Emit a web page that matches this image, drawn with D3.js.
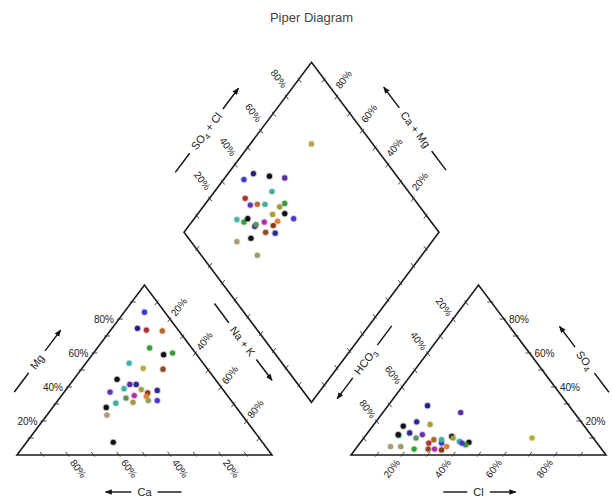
<!DOCTYPE html>
<html>
<head>
<meta charset="utf-8">
<script src="https://cdn.jsdelivr.net/npm/d3@7/dist/d3.min.js"></script>
<style>
  body { margin: 0; background: #fff; }
  text { font-family: "Liberation Sans", Arial, sans-serif; fill: #222; }
</style>
</head>
<body>
<script>

    // window size
    var width = 612, height = 499;

    // one colour per water sample
    var sampleColors = [
        "#b4ac3c", "#3a3ad0", "#23237e", "#111111", "#5a2aa0", "#3fae9e", "#b03030",
        "#6633b0", "#b06a30", "#45ab9b", "#3a9a3a", "#111111", "#a09a3a", "#46b0a8",
        "#36a336", "#2a2a88", "#111111", "#5f8f5f", "#b030b0", "#8b3a1a", "#a8a040",
        "#e08030", "#4a3acc", "#8b4a2a", "#2a2a90", "#a89a78", "#111111", "#9a9a6a"
    ];

    // cations (% meq)
    var ca  = [25, 8, 15.5, 38.5, 35, 38.5, 12.5, 45, 6.5, 46, 9, 58.5, 39, 29,
               16.5, 32.5, 51, 40.5, 36.5, 30.5, 32, 32, 29, 17.5, 26, 53, 13, 32.5];
    var mg  = [51, 84, 74.5, 44.5, 41.5, 39, 73.5, 37, 73, 30.5, 60, 7.5, 31, 54,
               63, 41.5, 28, 33.5, 35, 36.5, 38.5, 34.5, 32, 50.5, 38, 23.5, 59, 32];
    var nak = [24, 8, 10, 17, 23.5, 22.5, 14, 18, 20.5, 23.5, 31, 34, 30, 17,
               20.5, 26, 21, 26, 28.5, 33, 29.5, 33.5, 39, 32, 36, 23.5, 28, 35.5];

    // anions (% meq)
    var hco3 = [24, 61, 55.5, 50, 44.5, 53.5, 66, 66, 63, 60, 52, 55, 55, 75.5,
                73.5, 70.5, 71, 69.5, 65.5, 63, 60, 60, 53, 68, 64.5, 82, 75.5, 78];
    var so4  = [10, 7, 29, 7.5, 25, 8, 7, 12, 9, 9, 6, 11, 10, 11.5,
                3.5, 13, 17, 10, 3.5, 3, 18, 5, 7, 3.5, 19.5, 5, 12, 5];
    var cl   = [66, 32, 15.5, 42.5, 30.5, 38.5, 27, 22, 28, 31, 42, 34, 35, 13,
                23, 16.5, 12, 20.5, 31, 34, 22, 35, 40, 28.5, 16, 13, 12.5, 17];

    // percentage labels on each axis
    var tickLabels = [20, 40, 60, 80];

    // gap between the two triangles, in triangle side units
    var GAP = 0.31, R3 = Math.sqrt(3) / 2;

    var x = d3.scaleLinear().domain([0, 2 + GAP]).range([17, 606]);
    var y = d3.scaleLinear().domain([0, R3]).range([455, 285]);

    // corners in side units
    var A = [0, 0], B = [1, 0], C = [0.5, R3];
    var D = [1 + GAP, 0], E = [2 + GAP, 0], F = [1.5 + GAP, R3];
    var Bm = [1 + GAP / 2, GAP * R3],
        L  = [0.5 + GAP / 2, GAP * R3 + R3],
        T  = [1 + GAP / 2, GAP * R3 + 2 * R3],
        Rt = [1.5 + GAP / 2, GAP * R3 + R3];

    function px(p) { return [x(p[0]), y(p[1])]; }
    function lerp(a, b, t) { return [a[0] + (b[0] - a[0]) * t, a[1] + (b[1] - a[1]) * t]; }
    // unit direction in pixel space
    function pdir(d) {
        var vx = x(d[0]) - x(0), vy = y(d[1]) - y(0), n = Math.hypot(vx, vy);
        return [vx / n, vy / n];
    }

    function cationXY(i) {
        var s = ca[i] + mg[i] + nak[i], m = mg[i] / s, n = nak[i] / s;
        return [n + m / 2, m * R3];
    }
    function anionXY(i) {
        var s = hco3[i] + so4[i] + cl[i], su = so4[i] / s, c = cl[i] / s;
        return [D[0] + c + su / 2, su * R3];
    }
    function diamondXY(i) {
        var n = nak[i] / (ca[i] + mg[i] + nak[i]);
        var s = (so4[i] + cl[i]) / (hco3[i] + so4[i] + cl[i]);
        return [L[0] + 0.5 * n + 0.5 * s, L[1] - R3 * n + R3 * s];
    }

    var svg = d3.select("body").append("svg")
        .attr("width", width)
        .attr("height", height);

    svg.append("defs").append("marker")
        .attr("id", "arr")
        .attr("viewBox", "0 0 10 10")
        .attr("refX", 9).attr("refY", 5)
        .attr("markerWidth", 7).attr("markerHeight", 7)
        .attr("markerUnits", "userSpaceOnUse")
        .attr("orient", "auto")
        .append("path")
        .attr("d", "M0,1 L10,5 L0,9 z")
        .attr("fill", "#111");

    // title
    svg.append("text")
        .attr("x", x(Bm[0]))
        .attr("y", 22)
        .attr("text-anchor", "middle")
        .style("font-size", "13px")
        .style("fill", "#444")
        .text("Piper Diagram");

    // outlines
    var line = d3.line().x(function (p) { return x(p[0]); }).y(function (p) { return y(p[1]); });
    [[A, B, C, A], [D, E, F, D], [Bm, Rt, T, L, Bm]].forEach(function (shape) {
        svg.append("path")
            .attr("d", line(shape) + "Z")
            .attr("fill", "none")
            .attr("stroke", "#1a1a1a")
            .attr("stroke-width", 1.6)
            .attr("stroke-linejoin", "miter");
    });

    // ticks every 10 %, drawn along the grid direction
    var edges = [
        { a: A, b: B, inward: [-0.5, R3] },
        { a: A, b: C, inward: [1, 0] },
        { a: C, b: B, inward: [-0.5, -R3] },
        { a: D, b: E, inward: [0.5, R3] },
        { a: F, b: D, inward: [0.5, -R3] },
        { a: E, b: F, inward: [-1, 0] },
        { a: L, b: T, inward: [0.5, -R3] },
        { a: T, b: Rt, inward: [-0.5, -R3] },
        { a: L, b: Bm, inward: [0.5, R3] },
        { a: Bm, b: Rt, inward: [-0.5, R3] }
    ];
    edges.forEach(function (e) {
        var dir = pdir(e.inward);
        d3.range(1, 10).forEach(function (k) {
            var p = px(lerp(e.a, e.b, k / 10));
            svg.append("line")
                .attr("x1", p[0] - 2 * dir[0]).attr("y1", p[1] - 2 * dir[1])
                .attr("x2", p[0] + 4 * dir[0]).attr("y2", p[1] + 4 * dir[1])
                .attr("stroke", "#333")
                .attr("stroke-width", 0.9);
        });
    });

    // percentage labels (shift = extra pixels along the edge toward b)
    var labelAxes = [
        { a: A,  b: B,  t: function (v) { return 1 - v / 100; }, out: [0.5, -R3],  off: 7, shift: 0 },  // Ca
        { a: A,  b: C,  t: function (v) { return v / 100; },     out: [-1, 0],     off: 5, shift: 0 },  // Mg
        { a: C,  b: B,  t: function (v) { return v / 100; },     out: [0.5, R3],   off: 5, shift: 0 },  // Na + K
        { a: D,  b: E,  t: function (v) { return v / 100; },     out: [-0.5, -R3], off: 7, shift: 0 },  // Cl
        { a: F,  b: D,  t: function (v) { return v / 100; },     out: [-0.5, R3],  off: 5, shift: 0 },  // HCO3
        { a: E,  b: F,  t: function (v) { return v / 100; },     out: [1, 0],      off: 5, shift: 0 },  // SO4
        { a: L,  b: T,  t: function (v) { return v / 100; },     out: [-0.5, R3],  off: 7, shift: 5 },  // SO4 + Cl
        { a: Rt, b: T,  t: function (v) { return v / 100; },     out: [0.5, R3],   off: 6, shift: 5 }   // Ca + Mg
    ];
    labelAxes.forEach(function (ax) {
        var dir = pdir(ax.out);
        var pa = px(ax.a), pb = px(ax.b), el = Math.hypot(pb[0] - pa[0], pb[1] - pa[1]);
        var ed = [(pb[0] - pa[0]) / el, (pb[1] - pa[1]) / el];
        var ang = Math.atan2(dir[1], dir[0]) * 180 / Math.PI, anchor = "start";
        if (Math.abs(ang) > 90) { ang += ang > 0 ? -180 : 180; anchor = "end"; }
        tickLabels.forEach(function (v) {
            var p = px(lerp(ax.a, ax.b, ax.t(v)));
            var lx = p[0] + ax.off * dir[0] + ax.shift * ed[0],
                ly = p[1] + ax.off * dir[1] + ax.shift * ed[1];
            svg.append("text")
                .attr("x", lx).attr("y", ly)
                .attr("transform", "rotate(" + ang + "," + lx + "," + ly + ")")
                .attr("text-anchor", anchor)
                .attr("dominant-baseline", "central")
                .style("font-size", "10px")
                .text(v + "%");
        });
    });

    // axis titles with a dash on one side and an arrow on the other
    function axisTitle(a, b, t, normal, dist, angle, parts, arrowAtEnd) {
        var p = px(lerp(a, b, t)), nd = pdir(normal);
        var cx = p[0] + dist * nd[0], cy = p[1] + dist * nd[1];
        var g = svg.append("g")
            .attr("transform", "translate(" + cx + "," + cy + ") rotate(" + angle + ")");
        var txt = g.append("text")
            .attr("text-anchor", "middle")
            .attr("dominant-baseline", "central")
            .style("font-size", "11px");
        parts.forEach(function (s) {
            var ts = txt.append("tspan").text(s.t);
            if (s.sub) ts.attr("baseline-shift", "sub").style("font-size", "8px");
        });
        var w = txt.node().getComputedTextLength() / 2 + 6;
        var dash = arrowAtEnd ? [-w - 24, -w] : [w, w + 24];
        var arr  = arrowAtEnd ? [w, w + 26] : [-w, -w - 26];
        g.append("line")
            .attr("x1", dash[0]).attr("x2", dash[1]).attr("y1", 0).attr("y2", 0)
            .attr("stroke", "#111").attr("stroke-width", 1.4);
        g.append("line")
            .attr("x1", arr[0]).attr("x2", arr[1]).attr("y1", 0).attr("y2", 0)
            .attr("stroke", "#111").attr("stroke-width", 1.4)
            .attr("marker-end", "url(#arr)");
    }
    var slope = Math.atan2(y(0) - y(R3), x(0.5) - x(0)) * 180 / Math.PI;

    axisTitle(A, B, 0.5, [0, -1], 37, 0, [{ t: "Ca" }], false);
    axisTitle(D, E, 0.5, [0, -1], 37, 0, [{ t: "Cl" }], true);
    axisTitle(A, C, 0.45, [-R3, 0.5], 41, -slope, [{ t: "Mg" }], true);
    axisTitle(E, F, 0.46, [R3, 0.5], 41, slope, [{ t: "SO" }, { t: "4", sub: true }], false);
    axisTitle(C, B, 0.44, [R3, 0.5], 46, slope, [{ t: "Na + K" }], true);
    axisTitle(F, D, 0.56, [-R3, 0.5], 46, -slope, [{ t: "HCO" }, { t: "3", sub: true }], false);
    axisTitle(L, T, 0.49, [-R3, 0.5], 44, -slope,
        [{ t: "SO" }, { t: "4", sub: true }, { t: " + Cl" }], true);
    axisTitle(T, Rt, 0.5, [R3, 0.5], 44, slope, [{ t: "Ca + Mg" }], false);

    // samples
    var idx = d3.range(ca.length);
    [cationXY, anionXY, diamondXY].forEach(function (f) {
        svg.append("g").selectAll("circle")
            .data(idx)
            .join("circle")
            .attr("cx", function (i) { return x(f(i)[0]); })
            .attr("cy", function (i) { return y(f(i)[1]); })
            .attr("r", 2.6)
            .attr("fill", function (i) { return sampleColors[i]; })
            .attr("stroke", function (i) { return sampleColors[i]; })
            .attr("stroke-opacity", 0.25)
            .attr("stroke-width", 2);
    });

</script>
</body>
</html>
